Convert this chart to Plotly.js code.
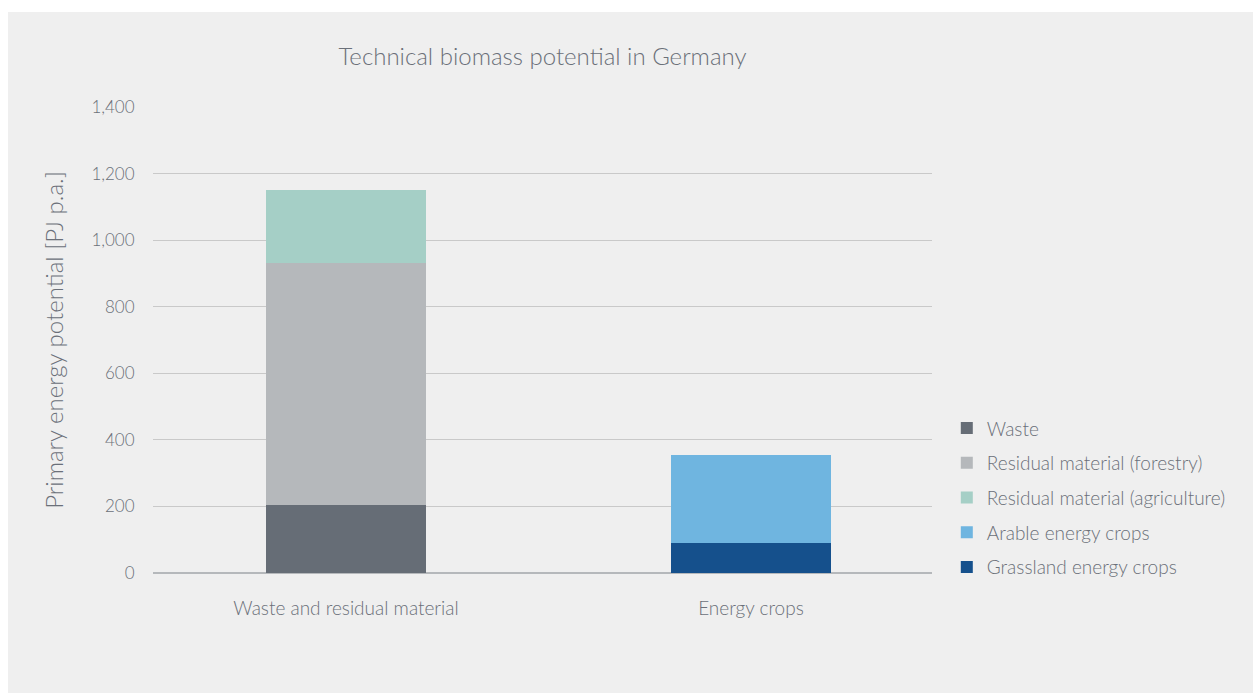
<!DOCTYPE html>
<html>
<head>
<meta charset="utf-8">
<script src="https://cdn.plot.ly/plotly-3.0.1.min.js"></script>
<style>
  html, body { margin: 0; padding: 0; background: #ffffff; width: 1253px; height: 693px; overflow: hidden; }
  #chart { position: absolute; left: 8px; top: 12px; width: 1245px; height: 681px; }
</style>
</head>
<body>
<div id="chart"></div>
<script>
const categories = ["Waste and residual material", "Energy crops"];
const seriesNames = ["Waste", "Residual material (forestry)", "Residual material (agriculture)", "Arable energy crops", "Grassland energy crops"];
const waste = [204, null];
const forestry = [728, null];
const agriculture = [220, null];
const grassland = [null, 89];
const arable = [null, 265];
const yTicks = [0, 200, 400, 600, 800, 1000, 1200, 1400];
const colors = {
  waste: "#666d76",
  forestry: "#b5b8bb",
  agriculture: "#a5cfc6",
  arable: "#6fb5e0",
  grassland: "#15508c"
};

const fontFam = "Lato, 'Open Sans', sans-serif";
const textColor = "#6b7079";

function bar(name, y, color, rank) {
  return {
    type: "bar", name: name, x: categories, y: y,
    marker: { color: color, line: { width: 0 } },
    width: 0.395, legendrank: rank, legendgroup: name,
    hoverinfo: "name+y"
  };
}

const data = [
  bar(seriesNames[0], waste, colors.waste, 1),
  bar(seriesNames[1], forestry, colors.forestry, 2),
  bar(seriesNames[2], agriculture, colors.agriculture, 3),
  bar(seriesNames[4], grassland, colors.grassland, 5),
  bar(seriesNames[3], arable, colors.arable, 4)
];

const layout = {
  width: 1245, height: 681,
  paper_bgcolor: "#efefef", plot_bgcolor: "#efefef",
  barmode: "stack",
  margin: { l: 145, r: 321, t: 95, b: 120, autoexpand: false },
  font: { family: fontFam, color: textColor, weight: 300 },
  title: {
    text: "Technical biomass potential in Germany",
    font: { family: fontFam, size: 24, color: textColor, weight: 300 },
    x: 0.5, xref: "paper", xanchor: "center",
    y: 1 - (57 - 12) / 681, yref: "container", yanchor: "middle"
  },
  xaxis: {
    type: "category",
    range: [-0.4765, 1.447],
    showgrid: false, zeroline: false, showline: false,
    ticks: "outside", ticklen: 18, tickcolor: "rgba(0,0,0,0)",
    tickfont: { family: fontFam, size: 19, color: textColor, weight: 300 }
  },
  yaxis: {
    range: [0, 1400],
    tickvals: yTicks,
    tickformat: ",d",
    showgrid: true, gridcolor: "#c9c9c9", gridwidth: 1,
    zeroline: true, zerolinecolor: "#b5b8bb", zerolinewidth: 2.5,
    showline: false,
    ticks: "outside", ticklen: 14, tickcolor: "rgba(0,0,0,0)",
    tickfont: { family: fontFam, size: 17, color: textColor, weight: 300 },
    title: {
      text: "Primary energy potential [PJ p.a.]",
      font: { family: fontFam, size: 24, color: textColor, weight: 300 },
      standoff: 21
    }
  },
  showlegend: true,
  legend: {
    x: 1.019, xanchor: "left", xref: "paper",
    y: 0.1615, yanchor: "middle", yref: "paper",
    traceorder: "grouped", tracegroupgap: 7,
    bgcolor: "rgba(0,0,0,0)",
    font: { family: fontFam, size: 19, color: textColor, weight: 300 }
  },
  bargap: 0
};

Plotly.newPlot("chart", data, layout, { displayModeBar: false, staticPlot: true });
</script>
</body>
</html>
